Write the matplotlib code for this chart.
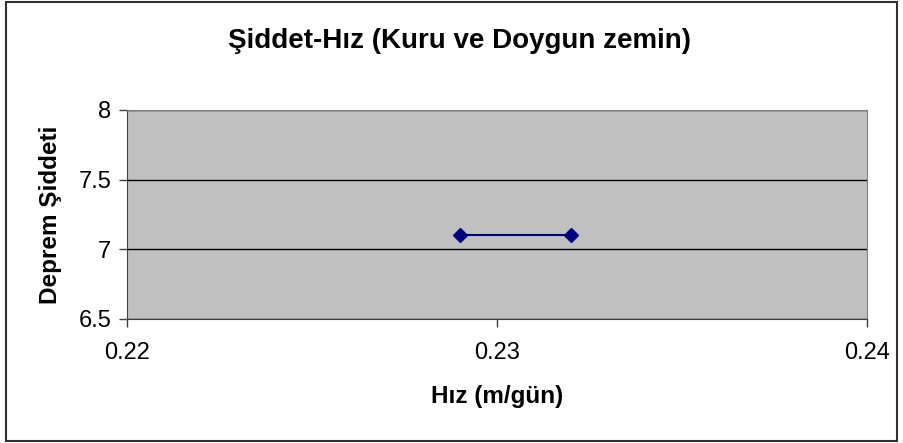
import matplotlib.pyplot as plt
from matplotlib.patches import Rectangle

plt.rcParams['font.family'] = ['Liberation Sans', 'DejaVu Sans']

hiz = [0.229, 0.232]
siddet = [7.1, 7.1]
x_ticks = [0.22, 0.23, 0.24]
y_ticks = [6.5, 7, 7.5, 8]

fig = plt.figure(figsize=(9.04, 4.43), dpi=100)
ax = fig.add_axes([0.1402, 0.2806, 0.8192, 0.4711])
ax.set_facecolor('#C0C0C0')

ax.plot(hiz, siddet, color='#000080', marker='D', markersize=7, linewidth=1.5, zorder=3)

ax.set_xlim(0.22, 0.24)
ax.set_ylim(6.5, 8)
ax.set_xticks(x_ticks)
ax.set_xticklabels(['0.22', '0.23', '0.24'])
ax.set_yticks(y_ticks)
ax.set_yticklabels(['6.5', '7', '7.5', '8'])
ax.yaxis.grid(True, color='black', linewidth=1)
ax.set_axisbelow(True)

for side in ['top', 'right']:
    ax.spines[side].set_color('#808080')
for side in ['left', 'bottom']:
    ax.spines[side].set_color('#404040')
ax.tick_params(direction='out', length=6, width=1, color='#404040', labelsize=17, pad=5)
ax.tick_params(axis='x', pad=11)

# title centred on the figure, like the Excel chart
fig.text(0.508, 1 - 41 / 443, 'Şiddet-Hız (Kuru ve Doygun zemin)', fontsize=20, fontweight='bold',
         ha='center', va='center')
ax.set_xlabel('Hız (m/gün)', fontsize=17.5, fontweight='bold', labelpad=15)
ax.set_ylabel('Deprem Şiddeti', fontsize=17.5, fontweight='bold', labelpad=12)

fig.patches.append(Rectangle((6 / 904, 2 / 443), 891 / 904, 439 / 443, transform=fig.transFigure,
                             fill=False, edgecolor='#303030', linewidth=1.5))

fig.savefig('out.png', dpi=100)
